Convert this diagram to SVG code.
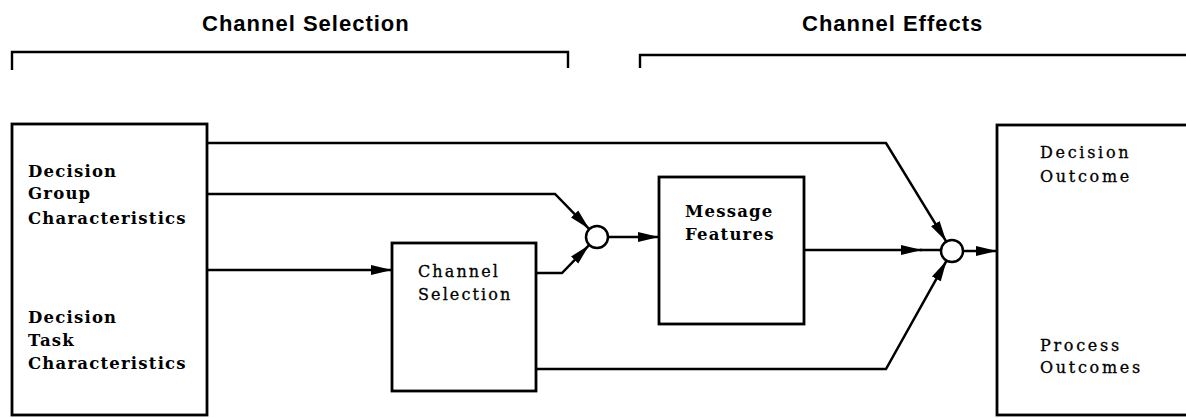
<svg xmlns="http://www.w3.org/2000/svg" width="1186" height="418" viewBox="0 0 1186 418">
  <style>
    .box { fill: #fff; stroke: #000; stroke-width: 2.8; }
    .wire { fill: none; stroke: #000; stroke-width: 2.5; stroke-linejoin: miter; }
    .bracket { fill: none; stroke: #000; stroke-width: 2.4; }
    .junction { fill: #fff; stroke: #000; stroke-width: 2.5; }
    .head { font-family: "Liberation Sans", Arial, sans-serif; font-weight: bold; font-size: 22px; letter-spacing: 1px; fill: #000; }
    .lbl { font-family: "DejaVu Serif", "Liberation Serif", serif; font-size: 16px; fill: #000; stroke: #000; stroke-width: 0.3; }
    .lbl-b { font-family: "DejaVu Serif", "Liberation Serif", serif; font-weight: bold; font-size: 16.5px; fill: #000; }
  </style>
  <defs>
    <marker id="arrow" markerUnits="userSpaceOnUse" markerWidth="21" markerHeight="11" refX="21" refY="5.5" orient="auto">
      <path d="M0,0.5 L21,5.5 L0,10.5 Z" fill="#000"/>
    </marker>
  </defs>

  <rect width="1186" height="418" fill="#fff"/>

  <!-- section headings with brackets -->
  <g id="heading-selection">
    <text class="head" x="202" y="31">Channel Selection</text>
    <path class="bracket" d="M12,70 V52 H568 V68"/>
  </g>
  <g id="heading-effects">
    <text class="head" x="802" y="31">Channel Effects</text>
    <path class="bracket" d="M640,68 V55 H1186"/>
  </g>

  <!-- inputs -->
  <g id="inputs">
    <rect class="box" x="12" y="124" width="195" height="291"/>
    <g class="lbl-b" letter-spacing="1.2">
      <text x="28" y="177">Decision</text>
      <text x="28" y="199">Group</text>
      <text x="28" y="224">Characteristics</text>
      <text x="28" y="323">Decision</text>
      <text x="28" y="346">Task</text>
      <text x="28" y="369">Characteristics</text>
    </g>
  </g>

  <g id="channel-selection">
    <rect class="box" x="392" y="243" width="144" height="148"/>
    <g class="lbl" letter-spacing="2.1">
      <text x="418" y="277">Channel</text>
      <text x="418" y="300">Selection</text>
    </g>
  </g>

  <g id="message-features">
    <rect class="box" x="659" y="177" width="145" height="147"/>
    <g class="lbl-b" font-size="16" letter-spacing="1.2">
      <text x="685" y="217">Message</text>
      <text x="685" y="240">Features</text>
    </g>
  </g>

  <g id="outcomes">
    <rect class="box" x="997" y="125" width="200" height="290"/>
    <g class="lbl" letter-spacing="2.7">
      <text x="1040" y="158">Decision</text>
      <text x="1040" y="182">Outcome</text>
      <text x="1040" y="351">Process</text>
      <text x="1040" y="373">Outcomes</text>
    </g>
  </g>

  <g id="junction-1">
    <circle class="junction" cx="597" cy="237" r="11"/>
  </g>
  <g id="junction-2">
    <circle class="junction" cx="952" cy="251" r="11"/>
  </g>

  <!-- connectors -->
  <g id="connectors">
    <path class="wire" d="M207,143 H886 L946.3,241.6" marker-end="url(#arrow)"/>
    <path class="wire" d="M207,194 H555 L589.3,229.1" marker-end="url(#arrow)"/>
    <path class="wire" d="M207,270 H392" marker-end="url(#arrow)"/>
    <path class="wire" d="M536,273 H562 L589.3,244.9" marker-end="url(#arrow)"/>
    <path class="wire" d="M608,237 H659" marker-end="url(#arrow)"/>
    <path class="wire" d="M804,250 H922" marker-end="url(#arrow)"/>
    <path class="wire" d="M920,250 H941"/>
    <path class="wire" d="M536,369 H886 L946.6,260.6" marker-end="url(#arrow)"/>
    <path class="wire" d="M963,251 H997" marker-end="url(#arrow)"/>
  </g>
</svg>
